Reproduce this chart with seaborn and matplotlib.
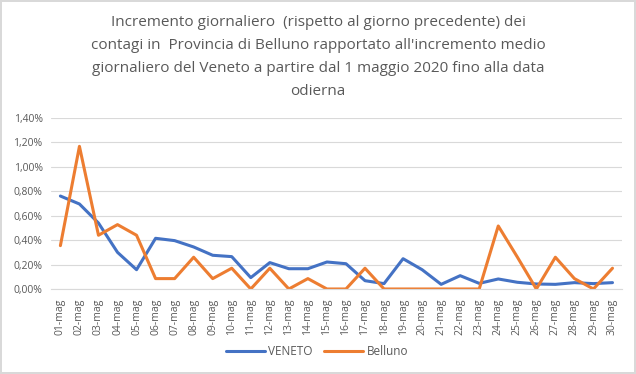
import pandas as pd
import numpy as np
import matplotlib
matplotlib.use('agg')
import matplotlib.pyplot as plt
from matplotlib.ticker import FuncFormatter, FixedLocator
import seaborn as sns

giorni = [f"{d:02d}-mag" for d in range(1, 31)]
veneto = [0.761, 0.696, 0.54, 0.30, 0.158, 0.415, 0.396, 0.344, 0.276, 0.265,
          0.093, 0.216, 0.166, 0.166, 0.221, 0.207, 0.068, 0.044, 0.248, 0.158,
          0.038, 0.109, 0.046, 0.082, 0.055, 0.041, 0.038, 0.052, 0.044, 0.052]
belluno = [0.355, 1.168, 0.44, 0.527, 0.44, 0.085, 0.085, 0.26, 0.085, 0.17,
           0.0, 0.17, 0.0, 0.085, 0.0, 0.0, 0.17, 0.0, 0.0, 0.0,
           0.0, 0.0, 0.0, 0.516, 0.262, 0.0, 0.26, 0.085, 0.0, 0.17]
serie = ["VENETO", "Belluno"]
colori = ["#4472C4", "#ED7D31"]
titolo = ("Incremento giornaliero  (rispetto al giorno precedente) dei\n"
          "contagi in  Provincia di Belluno rapportato all'incremento medio\n"
          "giornaliero del Veneto a partire dal 1 maggio 2020 fino alla data\n"
          "odierna")

df = pd.DataFrame({
    "giorno": list(range(len(giorni))) * 2,
    "valore": veneto + belluno,
    "serie": [serie[0]] * len(giorni) + [serie[1]] * len(giorni),
})

sns.set_style("white")
plt.rcParams['font.family'] = ['Open Sans', 'DejaVu Sans']

fig = plt.figure(figsize=(6.36, 3.74), dpi=100)
fig.patch.set_edgecolor('#d9d9d9')
fig.patch.set_linewidth(1.5)
ax = fig.add_axes([0.080, 0.2273, 0.898, 0.4572])

sns.lineplot(data=df, x="giorno", y="valore", hue="serie", palette=colori,
             hue_order=serie, linewidth=2.2, ax=ax, legend=True)

ax.set_xlim(-0.5, len(giorni) - 0.5)
ax.set_ylim(0, 1.4)
ax.set_yticks(np.arange(0, 1.41, 0.2))
ax.yaxis.set_major_formatter(FuncFormatter(lambda v, p: f"{v:.2f}%".replace('.', ',')))
ax.set_xticks(range(len(giorni)))
ax.set_xticklabels(giorni, rotation=90)
ax.xaxis.set_minor_locator(FixedLocator(np.arange(-0.5, len(giorni), 1)))
ax.tick_params(axis='x', which='major', length=0, pad=7, labelsize=7.5, labelcolor='#595959')
ax.tick_params(axis='x', which='minor', length=5, color='#d9d9d9', width=0.8)
ax.tick_params(axis='y', length=0, pad=6, labelsize=7.5, labelcolor='#595959')
ax.grid(axis='y', color='#d9d9d9', linewidth=0.8)
ax.set_axisbelow(True)
for s in ['top', 'right', 'left']:
    ax.spines[s].set_visible(False)
ax.spines['bottom'].set_color('#d9d9d9')
ax.set_xlabel("")
ax.set_ylabel("")

leg = ax.legend(loc='center', bbox_to_anchor=(0.466, -0.368), ncol=2, frameon=False,
                fontsize=8.5, handlelength=3.3, columnspacing=1.0, handletextpad=0.3)
for t in leg.get_texts():
    t.set_color('#595959')

fig.text(0.5, 0.96, titolo, ha='center', va='top', fontsize=11, color='#595959',
         linespacing=1.72)

fig.savefig("out.png", dpi=100, edgecolor=fig.get_edgecolor())
